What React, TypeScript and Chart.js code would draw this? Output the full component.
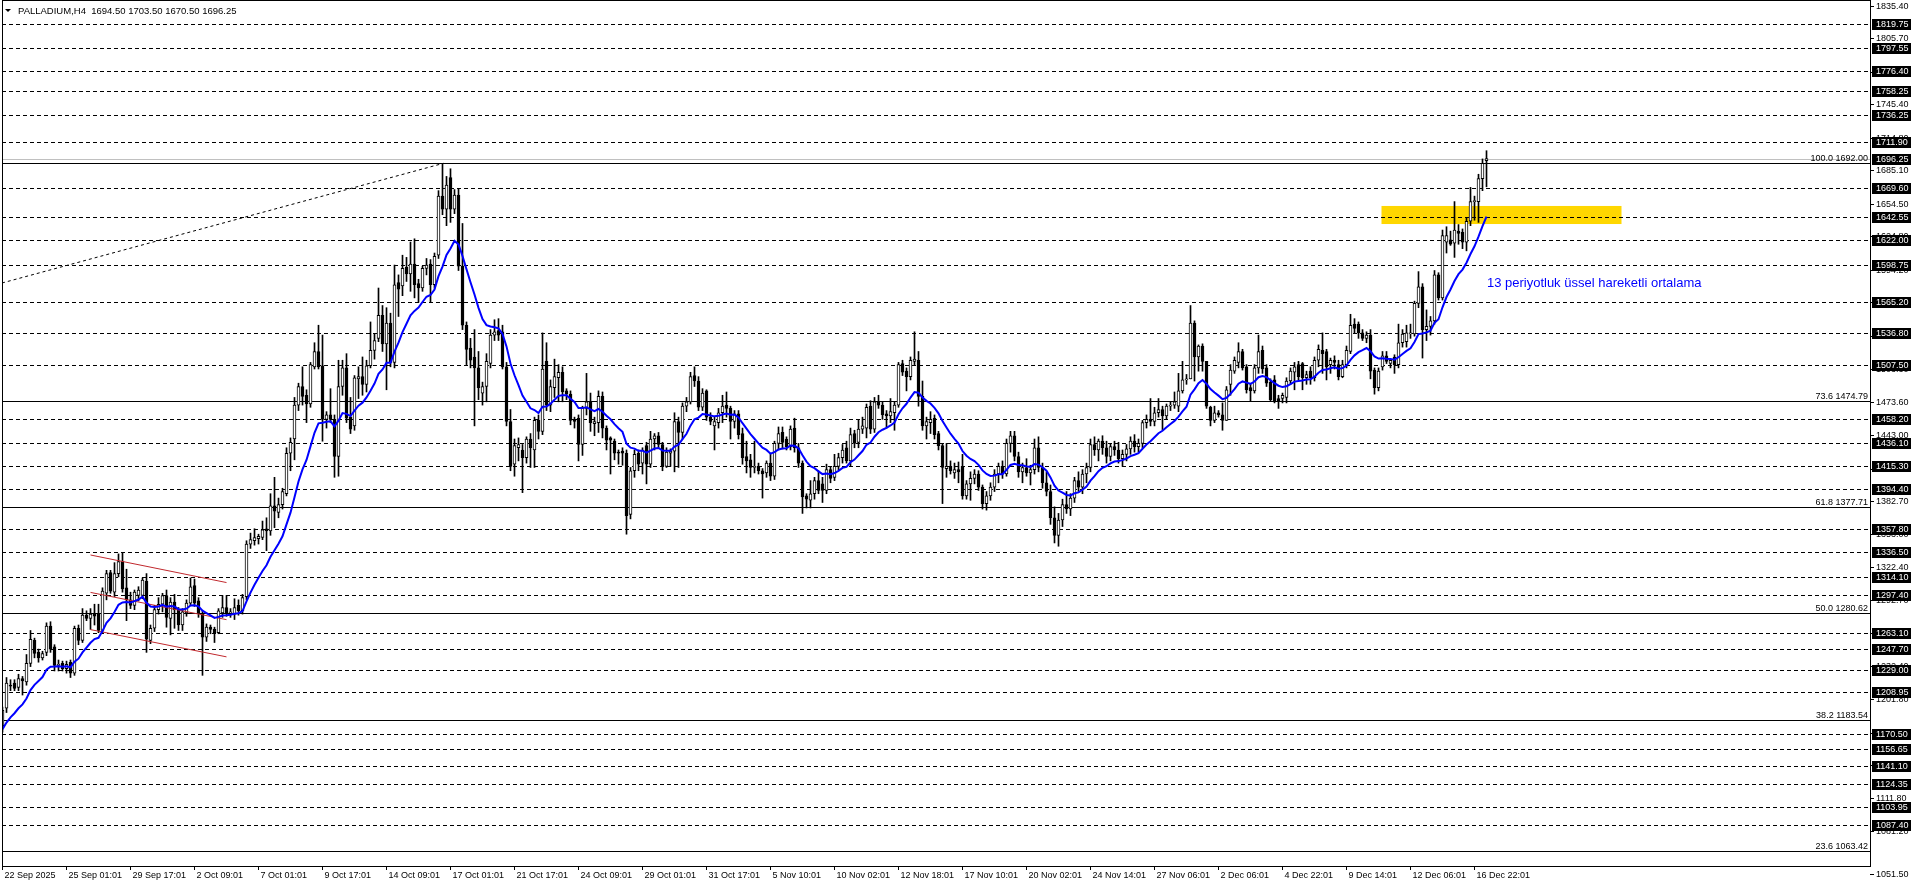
import React, { useEffect, useRef } from "react";
import { Chart, registerables } from "chart.js";

Chart.register(...registerables);

const FONT = '"Liberation Sans", Arial, sans-serif';

// ---- OHLC (H4 bars, 22 Sep 2025 -> 17 Dec 2025) ----
const OPEN = [
  1178, 1194, 1215, 1217, 1213, 1221, 1218, 1235, 1256, 1245, 1240, 1245, 1269, 1250, 1233, 1235, 1230, 1236, 1226, 1267,
  1256, 1279, 1276, 1280, 1280, 1265, 1299, 1318, 1300, 1317, 1328, 1304, 1293, 1288, 1297, 1297, 1310, 1256, 1267, 1284,
  1289, 1297, 1276, 1291, 1284, 1270, 1281, 1290, 1306, 1292, 1280, 1259, 1268, 1266, 1263, 1281, 1286, 1281, 1280, 1288,
  1283, 1296, 1344, 1347, 1349, 1350, 1358, 1356, 1379, 1373, 1380, 1390, 1427, 1440, 1471, 1488, 1480, 1472, 1506, 1520,
  1507, 1458, 1462, 1458, 1424, 1488, 1505, 1460, 1452, 1495, 1497, 1490, 1507, 1521, 1532, 1553, 1527, 1546, 1510, 1583,
  1580, 1597, 1591, 1600, 1582, 1578, 1596, 1600, 1581, 1608, 1662, 1650, 1679, 1650, 1663, 1598, 1544, 1523, 1515, 1505,
  1482, 1488, 1509, 1535, 1539, 1538, 1506, 1456, 1417, 1432, 1430, 1423, 1440, 1430, 1457, 1447, 1511, 1471, 1487, 1496,
  1501, 1484, 1481, 1458, 1459, 1435, 1468, 1474, 1454, 1455, 1479, 1450, 1441, 1438, 1428, 1429, 1427, 1371, 1411, 1427,
  1418, 1434, 1417, 1440, 1443, 1435, 1415, 1427, 1429, 1456, 1446, 1470, 1474, 1498, 1493, 1469, 1484, 1460, 1452, 1455,
  1464, 1471, 1468, 1456, 1463, 1445, 1424, 1421, 1414, 1415, 1411, 1409, 1418, 1406, 1436, 1446, 1440, 1433, 1450, 1432,
  1418, 1388, 1384, 1390, 1402, 1399, 1393, 1412, 1405, 1415, 1423, 1432, 1420, 1445, 1437, 1449, 1450, 1470, 1449, 1474,
  1471, 1463, 1461, 1464, 1471, 1509, 1502, 1497, 1511, 1512, 1479, 1452, 1455, 1459, 1445, 1434, 1413, 1415, 1409, 1412,
  1415, 1388, 1399, 1404, 1408, 1396, 1381, 1388, 1396, 1408, 1415, 1408, 1436, 1443, 1424, 1410, 1414, 1409, 1412, 1432,
  1414, 1400, 1392, 1368, 1352, 1366, 1380, 1376, 1386, 1402, 1396, 1408, 1414, 1435, 1430, 1438, 1432, 1424, 1433, 1430,
  1422, 1426, 1431, 1438, 1433, 1436, 1455, 1458, 1456, 1464, 1467, 1461, 1470, 1471, 1470, 1484, 1494, 1495, 1546, 1515,
  1525, 1511, 1469, 1457, 1464, 1462, 1457, 1490, 1502, 1510, 1520, 1506, 1487, 1484, 1505, 1521, 1505, 1492, 1494, 1477,
  1477, 1478, 1493, 1501, 1508, 1509, 1496, 1502, 1496, 1512, 1521, 1520, 1508, 1512, 1508, 1497, 1508, 1520, 1545, 1545,
  1537, 1532, 1535, 1503, 1487, 1506, 1516, 1509, 1515, 1508, 1528, 1529, 1536, 1536, 1564, 1579, 1540, 1543, 1548, 1590,
  1569, 1620, 1622, 1619, 1630, 1629, 1620, 1639, 1657, 1657, 1678, 1694.5
];
const HIGH = [
  1195, 1222, 1220, 1220, 1225, 1223, 1243, 1265, 1258, 1248, 1246, 1272, 1273, 1252, 1238, 1237, 1237, 1238, 1269, 1270,
  1285, 1283, 1285, 1289, 1289, 1304, 1320, 1320, 1327, 1335, 1336, 1321, 1300, 1302, 1305, 1313, 1317, 1270, 1288, 1295,
  1299, 1302, 1295, 1298, 1286, 1285, 1293, 1313, 1312, 1295, 1283, 1271, 1270, 1268, 1285, 1297, 1297, 1285, 1294, 1293,
  1298, 1347, 1354, 1358, 1353, 1365, 1368, 1390, 1405, 1386, 1395, 1432, 1441, 1478, 1491, 1506, 1485, 1510, 1528, 1544,
  1535, 1465, 1486, 1462, 1512, 1512, 1518, 1478, 1498, 1506, 1515, 1512, 1547, 1536, 1578, 1562, 1560, 1555, 1599, 1590,
  1608, 1606, 1620, 1623, 1586, 1598, 1605, 1604, 1610, 1667, 1692, 1680, 1687, 1668, 1669, 1637, 1547, 1532, 1540, 1520,
  1492, 1518, 1540, 1549, 1550, 1544, 1510, 1467, 1440, 1441, 1435, 1442, 1445, 1460, 1462, 1537, 1528, 1494, 1513, 1508,
  1506, 1486, 1484, 1460, 1462, 1470, 1500, 1482, 1460, 1484, 1483, 1452, 1442, 1440, 1430, 1432, 1430, 1414, 1430, 1430,
  1432, 1437, 1447, 1445, 1446, 1437, 1432, 1431, 1464, 1460, 1473, 1478, 1501, 1506, 1497, 1486, 1485, 1464, 1460, 1468,
  1480, 1483, 1470, 1466, 1466, 1450, 1438, 1426, 1438, 1418, 1413, 1420, 1427, 1438, 1451, 1451, 1442, 1452, 1459, 1436,
  1420, 1390, 1402, 1405, 1411, 1405, 1417, 1415, 1426, 1427, 1435, 1438, 1450, 1448, 1458, 1460, 1472, 1475, 1478, 1480,
  1474, 1466, 1477, 1474, 1510, 1512, 1505, 1515, 1538, 1520, 1493, 1460, 1465, 1462, 1447, 1436, 1436, 1420, 1418, 1419,
  1426, 1402, 1410, 1412, 1411, 1398, 1392, 1400, 1412, 1418, 1420, 1440, 1447, 1447, 1428, 1418, 1422, 1416, 1440, 1442,
  1418, 1410, 1398, 1378, 1372, 1385, 1392, 1390, 1405, 1410, 1412, 1418, 1440, 1442, 1440, 1443, 1438, 1436, 1438, 1437,
  1430, 1435, 1442, 1444, 1440, 1457, 1462, 1477, 1469, 1477, 1470, 1472, 1474, 1483, 1500, 1511, 1499, 1562, 1548, 1526,
  1527, 1511, 1470, 1470, 1466, 1473, 1488, 1508, 1515, 1528, 1522, 1508, 1490, 1508, 1535, 1525, 1508, 1495, 1498, 1480,
  1482, 1496, 1505, 1510, 1511, 1510, 1502, 1506, 1515, 1526, 1537, 1522, 1514, 1516, 1512, 1512, 1525, 1554, 1550, 1547,
  1540, 1538, 1540, 1505, 1505, 1520, 1520, 1513, 1517, 1545, 1540, 1544, 1545, 1566, 1593, 1582, 1558, 1552, 1594, 1592,
  1631, 1634, 1630, 1657, 1636, 1632, 1642, 1670, 1662, 1682, 1696, 1703.5
];
const LOW = [
  1172, 1190, 1210, 1210, 1210, 1206, 1215, 1232, 1240, 1236, 1238, 1242, 1245, 1228, 1228, 1228, 1226, 1222, 1224, 1252,
  1254, 1274, 1266, 1270, 1263, 1263, 1293, 1299, 1296, 1314, 1300, 1274, 1285, 1284, 1292, 1294, 1245, 1253, 1264, 1280,
  1282, 1268, 1261, 1267, 1265, 1265, 1278, 1288, 1287, 1277, 1224, 1255, 1262, 1254, 1262, 1277, 1278, 1277, 1275, 1279,
  1280, 1293, 1340, 1343, 1344, 1348, 1338, 1352, 1359, 1368, 1376, 1388, 1411, 1421, 1466, 1471, 1455, 1469, 1504, 1504,
  1438, 1450, 1455, 1405, 1406, 1480, 1455, 1445, 1448, 1477, 1480, 1483, 1505, 1513, 1529, 1520, 1485, 1506, 1505, 1552,
  1571, 1584, 1575, 1569, 1565, 1575, 1590, 1565, 1578, 1605, 1645, 1635, 1638, 1646, 1594, 1540, 1508, 1505, 1452, 1476,
  1471, 1474, 1505, 1530, 1530, 1504, 1452, 1411, 1406, 1420, 1391, 1418, 1414, 1414, 1440, 1444, 1466, 1465, 1478, 1474,
  1474, 1476, 1453, 1450, 1420, 1425, 1462, 1447, 1443, 1446, 1441, 1430, 1408, 1421, 1417, 1416, 1353, 1367, 1405, 1411,
  1408, 1399, 1414, 1430, 1432, 1411, 1414, 1415, 1410, 1414, 1440, 1465, 1472, 1488, 1466, 1466, 1457, 1453, 1430, 1450,
  1455, 1460, 1440, 1450, 1440, 1417, 1409, 1405, 1409, 1408, 1386, 1405, 1402, 1403, 1430, 1431, 1430, 1430, 1428, 1414,
  1372, 1377, 1377, 1385, 1390, 1382, 1390, 1400, 1402, 1412, 1418, 1418, 1415, 1432, 1432, 1445, 1441, 1445, 1446, 1468,
  1458, 1450, 1455, 1448, 1469, 1498, 1484, 1494, 1508, 1470, 1448, 1440, 1445, 1440, 1430, 1381, 1405, 1408, 1404, 1400,
  1385, 1385, 1384, 1399, 1393, 1376, 1375, 1384, 1392, 1400, 1404, 1406, 1428, 1420, 1405, 1400, 1406, 1398, 1408, 1410,
  1395, 1388, 1362, 1345, 1342, 1360, 1372, 1370, 1382, 1392, 1390, 1400, 1410, 1425, 1420, 1426, 1418, 1420, 1425, 1418,
  1415, 1420, 1426, 1428, 1428, 1432, 1450, 1452, 1452, 1460, 1448, 1458, 1466, 1468, 1465, 1482, 1490, 1495, 1493, 1502,
  1502, 1468, 1452, 1455, 1460, 1448, 1457, 1480, 1500, 1505, 1503, 1482, 1475, 1482, 1500, 1500, 1488, 1475, 1473, 1468,
  1473, 1473, 1490, 1485, 1494, 1485, 1490, 1490, 1493, 1506, 1500, 1494, 1500, 1504, 1494, 1496, 1505, 1518, 1537, 1532,
  1530, 1528, 1495, 1481, 1484, 1503, 1509, 1505, 1500, 1505, 1524, 1524, 1532, 1534, 1560, 1514, 1530, 1535, 1545, 1567,
  1567, 1610, 1617, 1606, 1618, 1614, 1612, 1635, 1640, 1638, 1667, 1670.5
];
const CLOSE = [
  1192, 1217, 1214, 1212, 1221, 1219, 1235, 1257, 1244, 1240, 1244, 1269, 1248, 1233, 1234, 1230, 1234, 1226, 1267, 1256,
  1279, 1276, 1280, 1278, 1265, 1301, 1317, 1301, 1317, 1328, 1303, 1293, 1288, 1300, 1302, 1311, 1257, 1267, 1284, 1289,
  1297, 1277, 1291, 1284, 1270, 1282, 1290, 1305, 1290, 1281, 1259, 1268, 1266, 1263, 1283, 1286, 1281, 1282, 1286, 1283,
  1295, 1344, 1348, 1350, 1351, 1357, 1356, 1379, 1374, 1380, 1392, 1427, 1437, 1471, 1488, 1479, 1472, 1508, 1520, 1506,
  1458, 1462, 1458, 1424, 1488, 1505, 1459, 1449, 1496, 1497, 1490, 1507, 1521, 1530, 1553, 1527, 1546, 1510, 1581, 1577,
  1596, 1591, 1600, 1581, 1578, 1596, 1599, 1581, 1607, 1662, 1650, 1672, 1650, 1663, 1598, 1544, 1522, 1512, 1505, 1487,
  1488, 1511, 1535, 1538, 1535, 1506, 1456, 1415, 1434, 1435, 1423, 1440, 1432, 1457, 1447, 1504, 1471, 1488, 1497, 1501,
  1483, 1481, 1457, 1456, 1435, 1468, 1474, 1455, 1456, 1479, 1450, 1439, 1439, 1427, 1427, 1427, 1370, 1411, 1426, 1417,
  1430, 1417, 1440, 1443, 1435, 1415, 1428, 1429, 1456, 1446, 1470, 1474, 1497, 1493, 1469, 1482, 1460, 1456, 1456, 1464,
  1470, 1468, 1456, 1463, 1444, 1423, 1420, 1414, 1415, 1411, 1408, 1418, 1406, 1436, 1445, 1437, 1433, 1449, 1432, 1418,
  1387, 1385, 1390, 1402, 1393, 1393, 1412, 1404, 1415, 1423, 1430, 1420, 1444, 1436, 1449, 1452, 1469, 1449, 1474, 1471,
  1462, 1461, 1465, 1471, 1508, 1501, 1497, 1512, 1513, 1479, 1452, 1456, 1458, 1444, 1434, 1414, 1415, 1411, 1412, 1410,
  1388, 1399, 1404, 1408, 1396, 1381, 1388, 1396, 1408, 1415, 1408, 1436, 1443, 1424, 1410, 1414, 1409, 1412, 1432, 1414,
  1400, 1392, 1368, 1352, 1366, 1380, 1376, 1386, 1402, 1396, 1408, 1414, 1435, 1430, 1438, 1432, 1424, 1433, 1430, 1422,
  1426, 1431, 1438, 1433, 1436, 1455, 1458, 1456, 1464, 1467, 1461, 1470, 1471, 1474, 1484, 1494, 1495, 1546, 1515, 1525,
  1511, 1470, 1457, 1464, 1462, 1457, 1485, 1503, 1512, 1520, 1505, 1485, 1484, 1505, 1520, 1504, 1491, 1476, 1475, 1475,
  1480, 1493, 1502, 1506, 1497, 1496, 1499, 1496, 1512, 1522, 1518, 1506, 1512, 1510, 1497, 1508, 1521, 1544, 1541, 1537,
  1532, 1535, 1502, 1487, 1502, 1516, 1511, 1512, 1508, 1528, 1536, 1537, 1537, 1564, 1579, 1540, 1543, 1548, 1590, 1569,
  1626, 1626, 1618, 1631, 1628, 1620, 1639, 1657, 1658, 1678, 1692, 1696.25
];

// ---- indicator ----
const EMA_PERIOD = 13;
const EMA_SEED = 1172;

// ---- axes ----
const X_LABEL_STEP = 16;
const X_LABELS = [
  "22 Sep 2025", "25 Sep 01:01", "29 Sep 17:01", "2 Oct 09:01", "7 Oct 01:01", "9 Oct 17:01",
  "14 Oct 09:01", "17 Oct 01:01", "21 Oct 17:01", "24 Oct 09:01", "29 Oct 01:01", "31 Oct 17:01",
  "5 Nov 10:01", "10 Nov 02:01", "12 Nov 18:01", "17 Nov 10:01", "20 Nov 02:01", "24 Nov 14:01",
  "27 Nov 06:01", "2 Dec 06:01", "4 Dec 22:01", "9 Dec 14:01", "12 Dec 06:01", "16 Dec 22:01"
];
const Y_TICKS = [
  1835.4, 1805.7, 1775.1, 1745.4, 1714.8, 1685.1, 1654.5, 1624.8, 1594.2, 1564.5, 1533.9, 1503.3, 1473.6,
  1443.0, 1412.4, 1382.7, 1353.0, 1322.4, 1292.7, 1262.1, 1232.4, 1201.8, 1171.2, 1141.5, 1111.8, 1081.2
];
const Y_BOTTOM_LABEL = 1051.5;

// ---- horizontal levels ----
const DASHED_LEVELS = [
  1819.75, 1797.55, 1776.4, 1758.25, 1736.25, 1711.9, 1669.6, 1642.55, 1622.0, 1598.75, 1565.2, 1536.8, 1507.5,
  1458.2, 1436.1, 1415.3, 1394.4, 1357.8, 1336.5, 1314.1, 1297.4, 1263.1, 1247.7, 1229.0, 1208.95, 1170.5,
  1156.65, 1141.1, 1124.35, 1103.95, 1087.4
];
const FIB_RATIOS = ["100.0", "73.6", "61.8", "50.0", "38.2", "23.6"];
const FIB_PRICES = [1692.0, 1474.79, 1377.71, 1280.62, 1183.54, 1063.42];
const BID_PRICE = 1696.25;
const HEADER_TEXT = "PALLADIUM,H4  1694.50 1703.50 1670.50 1696.25";

// ---- drawn objects ----
const CHANNEL_X = [22, 56];
const CHANNEL_TOP = [1334.0, 1308.8];
const CHANNEL_MID = [1299.8, 1274.9];
const CHANNEL_BOT = [1265.8, 1240.9];
const TREND_X = [-0.125, 110.25];
const TREND_Y = [1582.6, 1692.0];
const ZONE_X = [344.75, 404.75];
const ZONE_Y = [1636.5, 1653.0];
const NOTE_TEXT = "13 periyotluk üssel hareketli ortalama";
const NOTE_X = 371.1;
const NOTE_Y = 1582.6;

function computeEma(values: number[]) {
  const k = 2 / (EMA_PERIOD + 1);
  let e = EMA_SEED;
  return values.map((c) => (e = e + k * (c - e)));
}

export default function App() {
  const ref = useRef<HTMLCanvasElement | null>(null);

  useEffect(() => {
    const canvas = ref.current;
    if (!canvas) return;
    const ema = computeEma(CLOSE);

    const bodies = OPEN.map((o, i) => ({ x: i, y: [o, CLOSE[i]] }));
    const wicks = OPEN.map((_, i) => ({ x: i, y: [LOW[i], HIGH[i]] }));
    const bodyFill = OPEN.map((o, i) => (CLOSE[i] >= o ? "#ffffff" : "#000000"));

    const levelsPlugin = {
      id: "levels",
      beforeDatasetsDraw(chart: any) {
        const { ctx, chartArea: a, scales } = chart;
        const xs = scales.x, ys = scales.y;
        ctx.save();
        const zx1 = xs.getPixelForValue(ZONE_X[0]);
        const zx2 = xs.getPixelForValue(ZONE_X[1]);
        const zy1 = ys.getPixelForValue(ZONE_Y[1]);
        const zy2 = ys.getPixelForValue(ZONE_Y[0]);
        ctx.fillStyle = "#ffd700";
        ctx.fillRect(zx1, zy1, zx2 - zx1, zy2 - zy1);
        ctx.strokeStyle = "#000";
        ctx.lineWidth = 1;
        ctx.setLineDash([4, 3]);
        for (const v of DASHED_LEVELS) {
          const y = Math.round(ys.getPixelForValue(v)) + 0.5;
          ctx.beginPath();
          ctx.moveTo(a.left, y);
          ctx.lineTo(a.right, y);
          ctx.stroke();
        }
        ctx.setLineDash([]);
        const by = Math.round(ys.getPixelForValue(BID_PRICE)) + 0.5;
        ctx.strokeStyle = "#c0c0c0";
        ctx.beginPath();
        ctx.moveTo(a.left, by);
        ctx.lineTo(a.right, by);
        ctx.stroke();
        ctx.strokeStyle = "#000";
        for (const v of FIB_PRICES) {
          const y = Math.round(ys.getPixelForValue(v)) + 0.5;
          ctx.beginPath();
          ctx.moveTo(a.left, y);
          ctx.lineTo(a.right, y);
          ctx.stroke();
        }
        ctx.restore();
      },
      afterDraw(chart: any) {
        const { ctx, chartArea: a, scales } = chart;
        const xs = scales.x, ys = scales.y;
        ctx.save();
        ctx.font = `9px ${FONT}`;
        ctx.fillStyle = "#000";
        ctx.textAlign = "right";
        ctx.textBaseline = "bottom";
        FIB_PRICES.forEach((v, i) => {
          const y = Math.round(ys.getPixelForValue(v));
          ctx.fillText(`${FIB_RATIOS[i]} ${v.toFixed(2)}`, a.right - 2, y);
        });
        ctx.textAlign = "left";
        ctx.textBaseline = "middle";
        // bottom axis price label (drawn just under the plot, as in the terminal)
        ctx.strokeStyle = "#000";
        ctx.lineWidth = 1;
        const yb = a.bottom + 8;
        ctx.beginPath();
        ctx.moveTo(a.right, yb + 0.5);
        ctx.lineTo(a.right + 4, yb + 0.5);
        ctx.stroke();
        ctx.fillText(Y_BOTTOM_LABEL.toFixed(2), a.right + 6, yb + 0.5);
        const boxes = [...DASHED_LEVELS, BID_PRICE];
        for (const v of boxes) {
          const y = Math.round(ys.getPixelForValue(v));
          ctx.fillStyle = "#000";
          ctx.fillRect(a.right + 2, y - 5, 39, 11);
          ctx.fillStyle = "#fff";
          ctx.fillText(v.toFixed(2), a.right + 6, y + 0.5);
        }
        ctx.fillStyle = "#000";
        X_LABELS.forEach((t, k) => {
          const px = Math.floor(xs.getPixelForValue(k * X_LABEL_STEP)) + 0.5;
          ctx.beginPath();
          ctx.moveTo(px, a.bottom);
          ctx.lineTo(px, a.bottom + 4);
          ctx.stroke();
          ctx.fillText(t, px + 2, a.bottom + 10);
        });
        ctx.fillStyle = "#0000ff";
        ctx.font = `13px ${FONT}`;
        ctx.fillText(NOTE_TEXT, xs.getPixelForValue(NOTE_X), ys.getPixelForValue(NOTE_Y));
        ctx.fillStyle = "#000";
        ctx.beginPath();
        ctx.moveTo(5, 9);
        ctx.lineTo(11, 9);
        ctx.lineTo(8, 12);
        ctx.closePath();
        ctx.fill();
        ctx.font = `9.5px ${FONT}`;
        ctx.fillText(HEADER_TEXT, 18, 11);
        ctx.strokeStyle = "#000";
        ctx.strokeRect(a.left + 0.5, a.top - 0.5, a.right - a.left, a.bottom - a.top + 1);
        ctx.restore();
      },
    };

    const chart = new Chart(canvas, {
      type: "bar",
      data: {
        datasets: [
          {
            type: "line",
            label: "EMA13",
            data: ema.map((v, i) => ({ x: i, y: v })),
            borderColor: "#0000ff",
            borderWidth: 2,
            pointRadius: 0,
            tension: 0,
            order: 0,
          },
          {
            type: "line",
            label: "chTop",
            data: CHANNEL_X.map((x, i) => ({ x, y: CHANNEL_TOP[i] })),
            borderColor: "#c0282d",
            borderWidth: 1,
            pointRadius: 0,
            order: 1,
          },
          {
            type: "line",
            label: "chMid",
            data: CHANNEL_X.map((x, i) => ({ x, y: CHANNEL_MID[i] })),
            borderColor: "#c0282d",
            borderWidth: 1,
            pointRadius: 0,
            order: 1,
          },
          {
            type: "line",
            label: "chBot",
            data: CHANNEL_X.map((x, i) => ({ x, y: CHANNEL_BOT[i] })),
            borderColor: "#c0282d",
            borderWidth: 1,
            pointRadius: 0,
            order: 1,
          },
          {
            type: "line",
            label: "trend",
            data: TREND_X.map((x, i) => ({ x, y: TREND_Y[i] })),
            borderColor: "#000",
            borderWidth: 1,
            borderDash: [3, 3],
            pointRadius: 0,
            order: 1,
          },
          {
            type: "bar",
            label: "bodies",
            data: bodies,
            backgroundColor: bodyFill,
            borderColor: "#000",
            borderWidth: 1,
            borderSkipped: false,
            barThickness: 3,
            minBarLength: 1,
            grouped: false,
            order: 2,
          },
          {
            type: "bar",
            label: "wicks",
            data: wicks,
            backgroundColor: "#000",
            borderWidth: 0,
            barThickness: 1,
            grouped: false,
            order: 3,
          },
        ] as any,
      },
      options: {
        animation: false,
        responsive: false,
        events: [],
        layout: { padding: { top: 1, left: 2, right: 0, bottom: 0 } },
        plugins: { legend: { display: false }, tooltip: { enabled: false } },
        scales: {
          x: {
            type: "linear",
            offset: false,
            min: -0.125,
            max: 466.875,
            grid: { display: false, offset: false },
            border: { display: false },
            ticks: { display: false },
            afterFit: (s: any) => {
              s.height = 22;
              s.paddingLeft = 0;
              s.paddingRight = 0;
            },
          },
          y: {
            type: "linear",
            position: "right",
            min: 1049.74,
            max: 1840.34,
            afterFit: (s: any) => {
              s.width = 46;
              s.paddingTop = 0;
              s.paddingBottom = 0;
            },
            afterBuildTicks: (s: any) => {
              s.ticks = Y_TICKS.map((v) => ({ value: v }));
            },
            grid: { drawOnChartArea: false, drawTicks: true, tickLength: 4, color: "#000" },
            border: { display: true, color: "#000" },
            ticks: {
              autoSkip: false,
              padding: 2,
              color: "#000",
              font: { family: FONT, size: 9 },
              callback: (v: any) => Number(v).toFixed(2),
            },
          },
        },
      } as any,
      plugins: [levelsPlugin],
    });

    return () => chart.destroy();
  }, []);

  return (
    <div style={{ position: "fixed", left: 0, top: 0, width: 1916, height: 888, background: "#fff" }}>
      <canvas ref={ref} width={1916} height={888} style={{ display: "block" }} />
    </div>
  );
}
